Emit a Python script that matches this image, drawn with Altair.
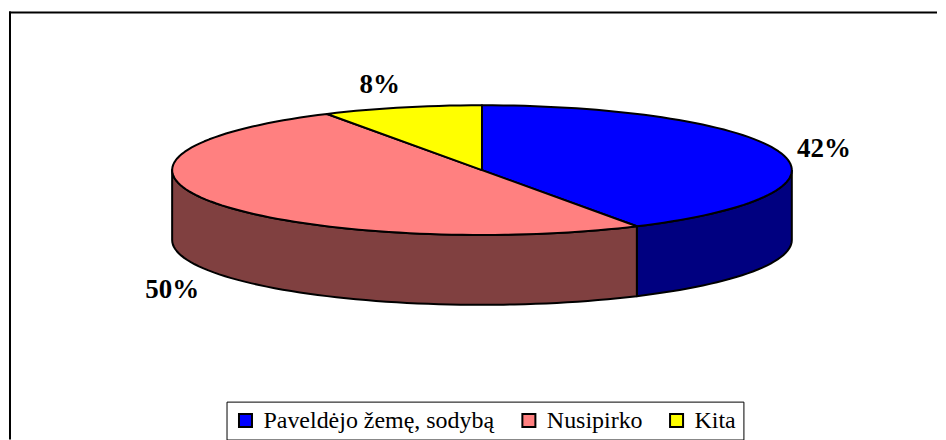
import math
import altair as alt
import pandas as pd

categories = ["Paveldėjo žemę, sodybą", "Nusipirko", "Kita"]
shares = [41.67, 50, 8.33]
top_colors = ["#0000FF", "#FF8080", "#FFFF00"]
side_colors = ["#000080", "#804040", "#808000"]
labels = ["42%", "50%", "8%"]
label_at = [(1.104, 0.33), (-1.0, -1.85), (-0.33, 1.31)]  # pie units

W, H = 930, 432
CX, CY, RX, RY, DEPTH = 474, 162, 310.5, 65, 70
xs = alt.Scale(domain=[-CX / RX, (W - CX) / RX], range=[0, W], nice=False, zero=False)
ys = alt.Scale(domain=[-(H - CY) / RY, CY / RY], range=[H, 0], nice=False, zero=False)
D = DEPTH / RY
STEP = 2


def arc(a0, a1, dz=0.0):
    n = max(2, int(abs(a1 - a0) / STEP) + 1)
    out = []
    for i in range(n + 1):
        a = math.radians(a0 + (a1 - a0) * i / n)
        out.append((math.sin(a), math.cos(a) - dz))
    return out


top_rows, side_rows = [], []
start = 0.0
for k, (c, s) in enumerate(zip(categories, shares)):
    end = start + s * 3.6
    pts = [(0.0, 0.0)] + arc(start, end) + [(0.0, 0.0)]
    for i, (x, y) in enumerate(pts):
        top_rows.append({"cat": c, "x": x, "y": y, "i": i})
    # only the part of the rim that faces the viewer (90..270 degrees)
    a0, a1 = max(start, 90), min(end, 270)
    if a1 > a0:
        rim = arc(a0, a1) + arc(a1, a0, D)
        rim.append(rim[0])
        for i, (x, y) in enumerate(rim):
            side_rows.append({"cat": c, "x": x, "y": y, "i": i})
    start = end

top_df = pd.DataFrame(top_rows)
side_df = pd.DataFrame(side_rows)
lab_df = pd.DataFrame({"t": labels, "x": [p[0] for p in label_at], "y": [p[1] for p in label_at]})

X = alt.X("x:Q", scale=xs, axis=None)
Y = alt.Y("y:Q", scale=ys, axis=None)
O = alt.Order("i:Q")

border_top = alt.Chart(pd.DataFrame({"a": [0]})).mark_rule(color="black", strokeWidth=2).encode(
    x=alt.value(0), x2=alt.value(W), y=alt.value(4)
)
border_left = alt.Chart(pd.DataFrame({"a": [0]})).mark_rule(color="black", strokeWidth=2).encode(
    x=alt.value(1), y=alt.value(3), y2=alt.value(H)
)

side = alt.Chart(side_df).mark_line(stroke="black", strokeWidth=2, strokeJoin="round").encode(
    X, Y, O,
    fill=alt.Fill("cat:N", scale=alt.Scale(domain=categories, range=side_colors), legend=None),
)
top = alt.Chart(top_df).mark_line(stroke="black", strokeWidth=2, strokeJoin="round").encode(
    X, Y, O,
    fill=alt.Fill(
        "cat:N",
        scale=alt.Scale(domain=categories, range=top_colors),
        legend=alt.Legend(
            title=None, orient="none", legendX=218, legendY=394, direction="horizontal", columns=3,
            strokeColor="black", fillColor="white", padding=7, symbolType="square", symbolSize=170,
            symbolStrokeColor="black", symbolStrokeWidth=2, symbolOpacity=1,
            labelFont="Liberation Serif", labelFontSize=24, labelColor="black", labelLimit=400,
            columnPadding=22, labelOffset=6,
        ),
    ),
)
text = alt.Chart(lab_df).mark_text(
    font="Liberation Serif", fontSize=27, fontWeight="bold", color="black"
).encode(X, Y, text="t:N")

chart = (
    alt.layer(border_top, border_left, side, top, text)
    .resolve_scale(fill="independent")
    .properties(width=W, height=H, padding=0)
    .configure_view(stroke=None)
)
chart.save("out.html", embed_options={"renderer": "svg", "actions": False})
